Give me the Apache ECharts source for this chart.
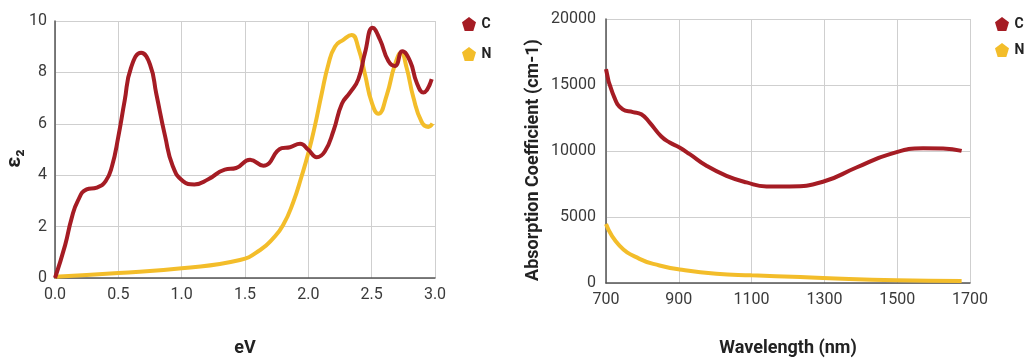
<!DOCTYPE html>
<html>
<head>
<meta charset="utf-8">
<script src="https://cdn.jsdelivr.net/npm/echarts@6/dist/echarts.min.js"></script>
<style>
  html, body { margin: 0; padding: 0; background: #fff; }
  #chart { width: 1024px; height: 362px; }
</style>
</head>
<body>
<div id="chart"></div>
<script>
// Dielectric function ε2 vs photon energy (eV)
const epsC = [
  [0.0, 0.0], [0.08, 1.28], [0.13, 2.3], [0.18, 3.0], [0.25, 3.45], [0.33, 3.52],
  [0.4, 3.77], [0.45, 4.35], [0.5, 5.5], [0.55, 6.9], [0.6, 8.18], [0.68, 8.76],
  [0.75, 8.31], [0.8, 7.16], [0.87, 5.5], [0.93, 4.35], [1.01, 3.77], [1.1, 3.64],
  [1.21, 3.84], [1.34, 4.22], [1.43, 4.28], [1.54, 4.6], [1.645, 4.37], [1.79, 5.05],
  [1.855, 5.09], [1.935, 5.22], [2.0, 4.99], [2.066, 4.7], [2.13, 4.92], [2.2, 5.75],
  [2.265, 6.78], [2.33, 7.22], [2.395, 7.74], [2.447, 8.76], [2.508, 9.74], [2.566, 9.27],
  [2.632, 8.44], [2.684, 8.25], [2.742, 8.82], [2.803, 8.44], [2.855, 7.61], [2.908, 7.22],
  [2.974, 7.74]
];
const epsN = [
  [0.0, 0.05], [0.5, 0.19], [1.0, 0.38], [1.46, 0.7], [1.62, 1.09], [1.72, 1.53],
  [1.8, 2.05], [1.88, 2.94], [1.947, 3.96], [2.0, 4.86], [2.05, 5.88], [2.105, 7.16],
  [2.158, 8.31], [2.21, 9.0], [2.276, 9.27], [2.342, 9.46], [2.395, 8.95], [2.447, 7.93],
  [2.5, 6.84], [2.553, 6.39], [2.618, 7.1], [2.684, 8.31], [2.732, 8.76], [2.776, 8.18],
  [2.829, 7.03], [2.895, 6.07], [2.947, 5.88], [2.98, 6.01]
];

// Absorption coefficient (cm-1) vs wavelength (nm)
const absC = [
  [700, 16200], [718, 14400], [746, 13150], [774, 12950], [797, 12780], [820, 12150],
  [852, 11100], [875, 10640], [902, 10260], [930, 9760], [976, 8880], [1031, 8120],
  [1086, 7620], [1141, 7320], [1204, 7320], [1296, 7670], [1388, 8750], [1480, 9760],
  [1571, 10210], [1626, 10190], [1677, 10010]
];
const absN = [
  [700, 4470], [737, 2840], [792, 1830], [847, 1330], [902, 1030], [1003, 700],
  [1100, 580], [1234, 450], [1296, 375], [1498, 200], [1677, 150]
];

const seriesNames = ['C', 'N'];
const colors = ['#a51c24', '#f3bd2a'];

const pentagon = 'path://M50,0 L100,38 L81,100 L19,100 L0,38 Z';
const font = 'Roboto';
const tickLabel = { color: '#3a3a3a', fontSize: 16, fontFamily: font };
const axisNameStyle = { color: '#222', fontSize: 18, fontWeight: 'bold', fontFamily: font };
const gridLine = { show: true, lineStyle: { color: '#cfcfcf', width: 1 } };
const axisLine = { show: true, lineStyle: { color: '#555', width: 1.5 } };

const chart = echarts.init(document.getElementById('chart'), null, { renderer: 'canvas' });

const legendCommon = {
  orient: 'vertical',
  icon: pentagon,
  itemWidth: 15,
  itemHeight: 14,
  textStyle: { color: '#222', fontSize: 14, fontWeight: 'bold', fontFamily: font },
  data: seriesNames
};

function lineSeries(name, data, axisIdx, color) {
  return {
    name, type: 'line', data, smooth: 0.5, showSymbol: false,
    xAxisIndex: axisIdx, yAxisIndex: axisIdx,
    lineStyle: { color, width: 4 }, itemStyle: { color },
    z: name === 'C' ? 3 : 2
  };
}

chart.setOption({
  animation: false,
  backgroundColor: '#fff',
  legend: [
    Object.assign({}, legendCommon, { left: 457, top: 12, itemGap: 16 }),
    Object.assign({}, legendCommon, { left: 990, top: 12, itemGap: 12 })
  ],
  grid: [
    { left: 55, top: 21, width: 380, height: 261 },
    { left: 606, top: 19, width: 364, height: 265 }
  ],
  xAxis: [
    {
      gridIndex: 0, type: 'value', min: 0, max: 3, interval: 0.5,
      name: 'eV', nameLocation: 'middle', nameGap: 61, nameTextStyle: axisNameStyle,
      axisLine, axisTick: { show: false }, splitLine: gridLine,
      axisLabel: Object.assign({ margin: 9, formatter: v => v.toFixed(1) }, tickLabel)
    },
    {
      gridIndex: 1, type: 'value', min: 700, max: 1700, interval: 200,
      name: 'Wavelength (nm)', nameLocation: 'middle', nameGap: 56, nameTextStyle: axisNameStyle,
      axisLine, axisTick: { show: false }, splitLine: gridLine,
      axisLabel: Object.assign({ margin: 9, formatter: v => String(v) }, tickLabel)
    }
  ],
  yAxis: [
    {
      gridIndex: 0, type: 'value', min: 0, max: 10, interval: 2,
      name: 'ε₂', nameLocation: 'middle', nameGap: 28,
      nameTextStyle: Object.assign({}, axisNameStyle, { fontSize: 20, padding: [0, 18, 0, 0] }),
      axisLine, axisTick: { show: false }, splitLine: gridLine,
      axisLabel: Object.assign({ margin: 8 }, tickLabel)
    },
    {
      gridIndex: 1, type: 'value', min: 0, max: 20000, interval: 5000,
      name: 'Absorption Coefficient (cm-1)', nameLocation: 'middle', nameGap: 64,
      nameTextStyle: Object.assign({}, axisNameStyle, { padding: [0, 18, 0, 0] }),
      axisLine, axisTick: { show: false }, splitLine: gridLine,
      axisLabel: Object.assign({ margin: 10, formatter: v => String(v) }, tickLabel)
    }
  ],
  series: [
    lineSeries('C', epsC, 0, colors[0]),
    lineSeries('N', epsN, 0, colors[1]),
    lineSeries('C', absC, 1, colors[0]),
    lineSeries('N', absN, 1, colors[1])
  ]
});
</script>
</body>
</html>
